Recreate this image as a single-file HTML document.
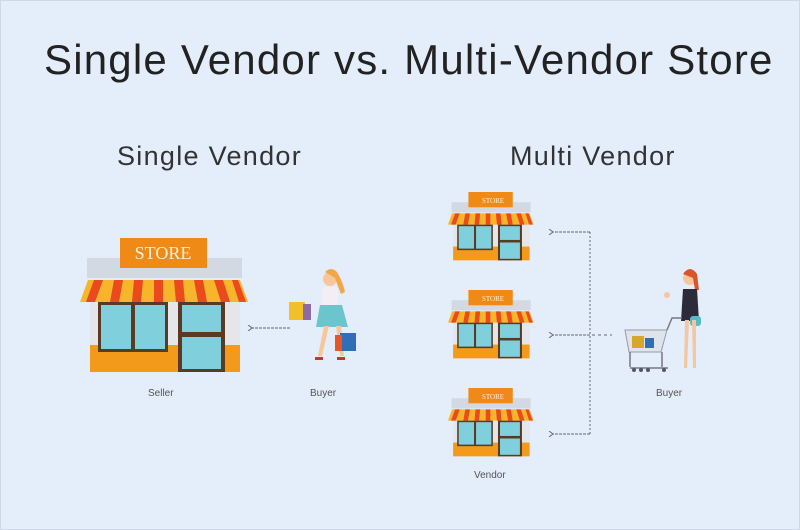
<!DOCTYPE html>
<html><head><meta charset="utf-8"><style>
body{margin:0;width:800px;height:530px;background:#e4edfa;overflow:hidden;font-family:"Liberation Sans",sans-serif}
.t{position:absolute;color:#222;white-space:nowrap}
</style></head><body>
<svg width="800" height="530" style="position:absolute;left:0;top:0">
<defs>
<g id="store">
 <rect x="7" y="20" width="155" height="20" fill="#d3d9e2"/>
 <rect x="40" y="0" width="87" height="30" fill="#f08a16"/>
 <rect x="10" y="62" width="150" height="72" fill="#e4e6ea"/>
 <rect x="10" y="107" width="150" height="27" fill="#f39a1b"/>
 <path d="M8 42 H160 L168 64 H0 Z" fill="#f6b52a"/>
 <g fill="#ea4a1c">
  <path d="M14 42 h9 l-8 22 h-9z"/><path d="M34 42 h9 l-4 22 h-9z"/><path d="M54 42 h9 l-2 22 h-9z"/><path d="M74 42 h9 l0 22 h-9z"/><path d="M94 42 h9 l2 22 h-9z"/><path d="M114 42 h9 l4 22 h-9z"/><path d="M134 42 h9 l7 22 h-9z"/><path d="M152 42 h6 l8 22 h-7z"/>
 </g>
 <rect x="18" y="64" width="70" height="50" fill="#5a3a22"/>
 <rect x="21" y="67" width="30" height="44" fill="#7fd0dc"/>
 <rect x="55" y="67" width="30" height="44" fill="#7fd0dc"/>
 <rect x="98" y="64" width="47" height="70" fill="#5a3a22"/>
 <rect x="102" y="67" width="39" height="27" fill="#7fd0dc"/>
 <rect x="102" y="99" width="39" height="32" fill="#7fd0dc"/>
</g>
<marker id="a" markerWidth="6" markerHeight="6" refX="1" refY="3" orient="auto"><path d="M5 0 L1 3 L5 6" fill="none" stroke="#667" stroke-width="1"/></marker>
</defs>
<rect x="0.5" y="0.5" width="799" height="529" fill="none" stroke="#cfd8e6"/>
<g transform="translate(80,238)"><use href="#store"/></g>
<text x="163" y="259" font-family="Liberation Serif" font-size="18" fill="#fdf0d8" text-anchor="middle">STORE</text>
<g transform="translate(448,192) scale(0.51)"><use href="#store"/></g>
<g transform="translate(448,290) scale(0.51)"><use href="#store"/></g>
<g transform="translate(448,388) scale(0.51)"><use href="#store"/></g>
<g font-family="Liberation Serif" font-size="7" fill="#fdf0d8" text-anchor="middle">
<text x="493" y="203">STORE</text><text x="493" y="301">STORE</text><text x="493" y="399">STORE</text></g>
<g stroke="#667" stroke-width="1" fill="none">
<line x1="290" y1="328" x2="252" y2="328" stroke-dasharray="3 1" marker-end="url(#a)"/>
<line x1="590" y1="232" x2="590" y2="434" stroke-dasharray="2 2"/>
<line x1="590" y1="232" x2="553" y2="232" stroke-dasharray="3 1" marker-end="url(#a)"/>
<line x1="590" y1="335" x2="553" y2="335" stroke-dasharray="3 1" marker-end="url(#a)"/>
<line x1="590" y1="434" x2="553" y2="434" stroke-dasharray="3 1" marker-end="url(#a)"/>
<line x1="592" y1="335" x2="612" y2="335" stroke-dasharray="3 3"/>
</g>
<g>
 <circle cx="330" cy="279" r="7" fill="#f7c79a"/>
 <path d="M325 272 q6-6 12 0 q6 10 8 20 l-4 2 q-4-10-6-16z" fill="#f2a64a"/>
 <rect x="322" y="287" width="16" height="18" rx="4" fill="#f3eef6"/>
 <path d="M320 305 h22 l6 22 h-32z" fill="#6cc5cc"/>
 <path d="M324 326 l-6 30 h4 l7-30z M336 326 l4 30 h4 l-3-30z" fill="#f7c79a"/>
 <rect x="289" y="302" width="16" height="18" fill="#f1c02a"/>
 <rect x="303" y="304" width="8" height="16" fill="#8e6aa6"/>
 <rect x="340" y="333" width="16" height="18" fill="#2f6fb8"/>
 <rect x="335" y="335" width="7" height="16" fill="#e9552a"/>
 <path d="M315 357 h8 v3 h-8z M337 357 h8 v3 h-8z" fill="#c0392b"/>
</g>
<g>
 <circle cx="690" cy="278" r="7" fill="#f5c6a0"/>
 <path d="M683 274 q7-10 14 0 l2 16 l-4 0 l-2-12 z" fill="#d9552a"/>
 <path d="M683 289 h14 l2 32 h-18z" fill="#2b2b3a"/>
 <rect x="690" y="316" width="11" height="10" rx="3" fill="#58b9c8"/>
 <path d="M685 320 l-1 48 h3 l2-48 z M692 320 l1 48 h3 l0-48z" fill="#f5c6a0"/>
 <circle cx="667" cy="295" r="3" fill="#f5c6a0"/>
 <path d="M625 330 h42 l-6 22 h-32z" fill="#dfe4ea" stroke="#99a" stroke-width="1"/>
 <rect x="632" y="336" width="12" height="12" fill="#d7a72a"/>
 <rect x="645" y="338" width="9" height="10" fill="#2f6fb8"/>
 <path d="M667 330 l5-12 h10 M630 352 v15 M662 352 v15 M630 368 h38" stroke="#778" stroke-width="1.5" fill="none"/>
 <g fill="#556"><circle cx="634" cy="370" r="2"/><circle cx="641" cy="370" r="2"/><circle cx="648" cy="370" r="2"/><circle cx="664" cy="370" r="2"/></g>
</g>
</svg>
<div class="t" style="left:44px;top:36px;font-size:42px;letter-spacing:1.2px">Single Vendor vs. Multi-Vendor Store</div>
<div class="t" style="left:117px;top:141px;font-size:27px;letter-spacing:1.3px;color:#333">Single Vendor</div>
<div class="t" style="left:510px;top:141px;font-size:27px;letter-spacing:1.3px;color:#333">Multi Vendor</div>
<div class="t" style="left:148px;top:388px;font-size:10px;color:#555">Seller</div>
<div class="t" style="left:310px;top:388px;font-size:10px;color:#555">Buyer</div>
<div class="t" style="left:656px;top:388px;font-size:10px;color:#555">Buyer</div>
<div class="t" style="left:474px;top:470px;font-size:10px;color:#555">Vendor</div>
</body></html>
